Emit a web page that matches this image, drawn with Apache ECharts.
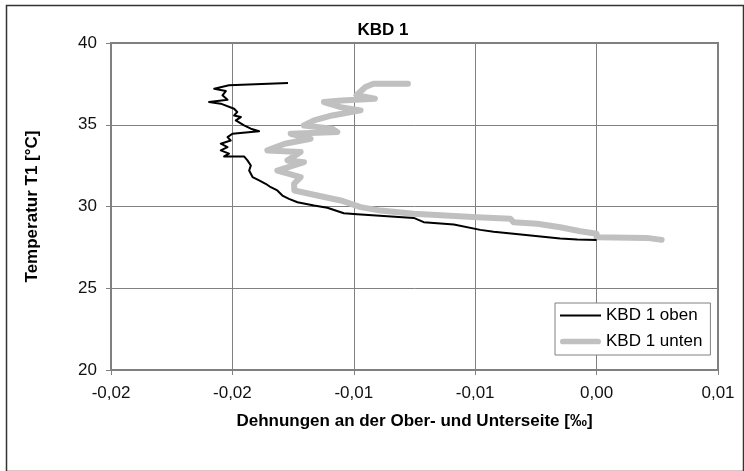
<!DOCTYPE html>
<html>
<head>
<meta charset="utf-8">
<script src="https://cdn.jsdelivr.net/npm/echarts@6/dist/echarts.min.js"></script>
<style>
html,body{margin:0;padding:0;background:#fff;}
#chart{width:744px;height:471px;}
</style>
</head>
<body>
<div id="chart"></div>
<script>
const titleText = 'KBD 1';
const xAxisName = 'Dehnungen an der Ober- und Unterseite [‰]';
const yAxisName = 'Temperatur T1 [°C]';
const seriesNames = ['KBD 1 oben', 'KBD 1 unten'];
const xTickLabels = ['-0,02', '-0,02', '-0,01', '-0,01', '0,00', '0,01'];
const yTickLabels = ['20', '25', '30', '35', '40'];

const obenX = [-0.01271,-0.01514,-0.01575,-0.01527,-0.01541,-0.01520,-0.01596,-0.01548,-0.01493,-0.01480,
  -0.01493,-0.01465,-0.01486,-0.01452,-0.01424,-0.01390,-0.01500,-0.01520,-0.01507,-0.01548,
  -0.01520,-0.01548,-0.01514,-0.01534,-0.01452,-0.01438,-0.01424,-0.01431,-0.01417,-0.01390,
  -0.01363,-0.01342,-0.01315,-0.01294,-0.01267,-0.01232,-0.01164,-0.01109,-0.01041,-0.00986,
  -0.00753,-0.00712,-0.00588,-0.00479,-0.00424,-0.00342,-0.00150,-0.00080,0.00000];
const obenY = [37.55,37.41,37.20,37.06,36.80,36.53,36.39,36.29,35.98,35.78,
  35.57,35.47,35.27,34.96,34.76,34.60,34.45,34.24,34.04,33.84,
  33.63,33.43,33.23,33.06,33.06,32.82,32.51,32.20,31.80,31.60,
  31.39,31.18,30.98,30.67,30.47,30.26,30.06,29.92,29.59,29.52,
  29.30,29.04,28.90,28.57,28.45,28.33,28.04,27.98,27.95];

const untenX = [-0.00777,-0.00919,-0.00952,-0.00989,-0.00913,-0.01050,-0.01123,-0.01054,-0.00972,-0.01089,
  -0.01164,-0.01206,-0.01089,-0.01068,-0.01260,-0.01178,-0.01284,-0.01356,-0.01219,-0.01273,
  -0.01205,-0.01315,-0.01219,-0.01246,-0.01245,-0.01150,-0.01054,-0.00972,-0.00890,-0.00753,
  -0.00492,-0.00355,-0.00342,-0.00245,-0.00150,-0.00067,0.00000,0.00000,0.00207,0.00268];
const untenY = [37.51,37.51,37.31,36.80,36.59,36.49,36.39,36.08,35.88,35.57,
  35.27,34.96,34.76,34.55,34.45,34.14,33.84,33.43,33.33,32.82,
  32.71,32.20,31.80,31.39,30.98,30.67,30.37,29.96,29.75,29.55,
  29.34,29.25,29.04,28.94,28.73,28.49,28.33,28.12,28.08,27.96];

const font = "'Liberation Sans', Arial, sans-serif";
const zip = (xs, ys) => xs.map((x, i) => [x, ys[i]]);

const chart = echarts.init(document.getElementById('chart'), null, {renderer: 'canvas'});
chart.setOption({
  animation: false,
  backgroundColor: '#fff',
  textStyle: {fontFamily: font},
  title: {
    text: titleText, left: 378, top: 17, textAlign: 'center',
    textStyle: {fontFamily: font, fontSize: 17, fontWeight: 'bold', color: '#000'}
  },
  graphic: [{
    type: 'rect', left: 4, top: 3, shape: {width: 737, height: 466},
    style: {fill: 'none', stroke: '#333', lineWidth: 1.5}, silent: true, z: -1
  }],
  grid: {left: 111, right: 26, top: 43, bottom: 101, show: true, borderColor: '#808080', borderWidth: 2, backgroundColor: 'transparent'},
  legend: {
    orient: 'vertical', left: 555, top: 303,
    data: [
      {name: seriesNames[0], icon: 'path://M0 0H43V2H0Z'},
      {name: seriesNames[1], icon: 'path://M3 0H40A3 3 0 0 1 40 6H3A3 3 0 0 1 3 0Z'}
    ],
    itemWidth: 41, itemHeight: 12, itemGap: 9,
    padding: [4, 8, 5, 5],
    borderColor: '#808080', borderWidth: 1, backgroundColor: '#fff',
    textStyle: {fontFamily: font, fontSize: 17, color: '#000'}
  },
  xAxis: {
    type: 'value', min: -0.02, max: 0.005, interval: 0.005,
    name: xAxisName, nameLocation: 'middle', nameGap: 43,
    nameTextStyle: {fontFamily: font, fontSize: 17, fontWeight: 'bold', color: '#000'},
    axisLine: {show: true, onZero: false, lineStyle: {color: '#808080', width: 2}},
    axisTick: {show: true, inside: false, length: 5, lineStyle: {color: '#808080'}},
    axisLabel: {margin: 15, fontFamily: font, fontSize: 17, color: '#111',
      formatter: (v, i) => xTickLabels[i]},
    splitLine: {show: true, lineStyle: {color: '#808080', width: 1}}
  },
  yAxis: {
    type: 'value', min: 20, max: 40, interval: 5,
    name: yAxisName, nameLocation: 'middle', nameGap: 70, nameRotate: 90,
    nameTextStyle: {fontFamily: font, fontSize: 17, fontWeight: 'bold', color: '#000'},
    axisLine: {show: true, onZero: false, lineStyle: {color: '#808080', width: 2}},
    axisTick: {show: true, inside: false, length: 5, lineStyle: {color: '#808080'}},
    axisLabel: {margin: 14, fontFamily: font, fontSize: 17, color: '#111',
      formatter: (v, i) => yTickLabels[i]},
    splitLine: {show: true, lineStyle: {color: '#808080', width: 1}}
  },
  series: [
    {
      name: seriesNames[1], type: 'line', data: zip(untenX, untenY),
      symbol: 'none', lineStyle: {color: '#c0c0c0', width: 6, join: 'round', cap: 'round'},
      itemStyle: {color: '#c0c0c0'}, z: 2
    },
    {
      name: seriesNames[0], type: 'line', data: zip(obenX, obenY),
      symbol: 'none', lineStyle: {color: '#000', width: 2, join: 'round'},
      itemStyle: {color: '#000'}, z: 3
    }
  ]
});
</script>
</body>
</html>
